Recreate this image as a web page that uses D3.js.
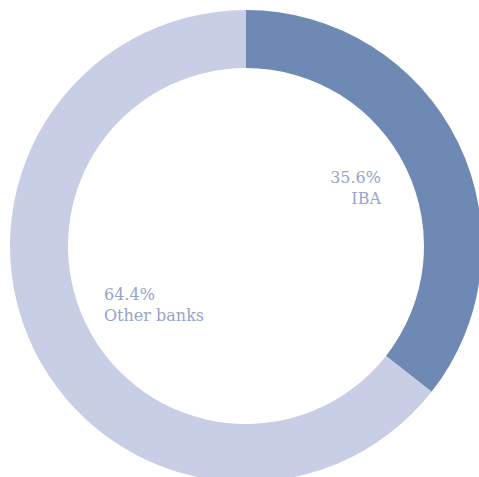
<!DOCTYPE html>
<html><head><meta charset="utf-8">
<script src="https://cdn.jsdelivr.net/npm/d3@7"></script>
<style>html,body{margin:0;padding:0;background:#fff;}</style>
</head><body>
<svg id="c" width="479" height="477"></svg>
<script>
const categories = ["IBA", "Other banks"];
const values = [35.6, 64.4];
const labels = ["35.6%", "64.4%"];
const colors = ["#6f89b5", "#c8cee6"];

const svg = d3.select("#c");
const cx = 246, cy = 246, R = 236, r = 178;
const g = svg.append("g").attr("transform", `translate(${cx},${cy})`);
const pie = d3.pie().sort(null).value(d => d)(values);
const arc = d3.arc().innerRadius(r).outerRadius(R);
g.selectAll("path").data(pie).join("path")
  .attr("d", arc).attr("fill", (d, i) => colors[i]);

const pos = [
  {x: 135, y: -63, anchor: "end"},
  {x: -142, y: 54, anchor: "start"}
];
categories.forEach((c, i) => {
  const t = g.append("text")
    .attr("x", pos[i].x).attr("y", pos[i].y)
    .attr("text-anchor", pos[i].anchor)
    .attr("fill", "#95a4c9")
    .style("font-family", "'DejaVu Serif', serif")
    .style("font-weight", "200")
    .style("font-size", "16px");
  t.append("tspan").attr("x", pos[i].x).text(labels[i]);
  t.append("tspan").attr("x", pos[i].x).attr("dy", 21).text(c);
});
</script>
</body></html>
